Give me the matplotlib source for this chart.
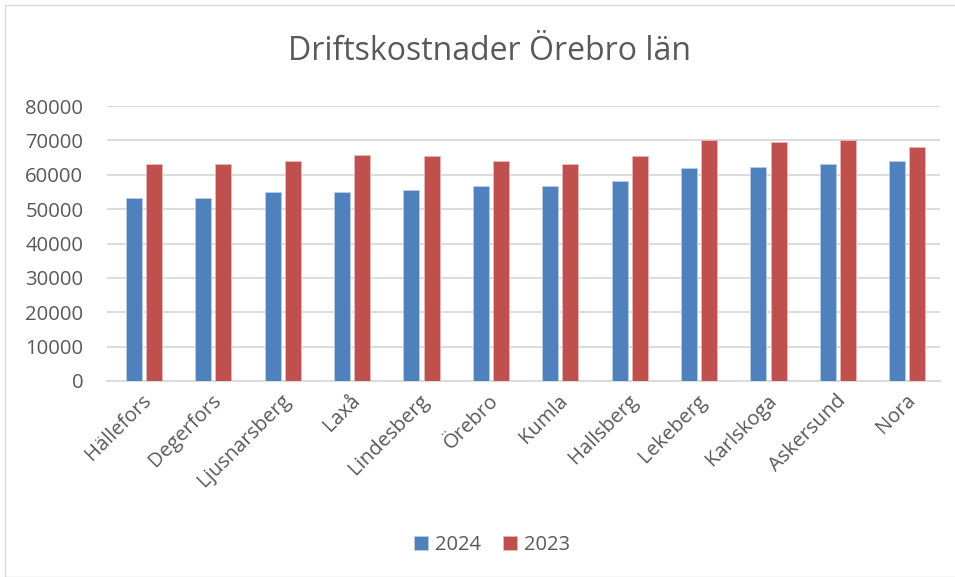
import matplotlib
matplotlib.use("Agg")
import matplotlib.pyplot as plt
import numpy as np
from matplotlib.patches import Rectangle

kommuner = ["Hällefors", "Degerfors", "Ljusnarsberg", "Laxå", "Lindesberg", "Örebro",
            "Kumla", "Hallsberg", "Lekeberg", "Karlskoga", "Askersund", "Nora"]
v2024 = [53100, 53300, 54900, 55000, 55700, 56600, 56700, 58300, 62100, 62300, 63000, 64100]
v2023 = [63200, 63100, 63900, 65800, 65400, 64100, 63200, 65500, 70100, 69400, 70200, 68200]

BLUE = "#4f81bd"
RED = "#c0504d"
GREY = "#595959"

plt.rcParams["font.family"] = ["Open Sans", "DejaVu Sans"]

fig = plt.figure(figsize=(9.55, 5.77), dpi=100)
ax = fig.add_axes([107 / 955, 1 - 381 / 577, (940 - 107) / 955, (381 - 106) / 577])

x = np.arange(len(kommuner))
w = 0.23
gap = 0.06
ax.bar(x - (w + gap) / 2 + 0.03, v2024, width=w, color=BLUE, label="2024", zorder=3,
       edgecolor="#b9cde5", linewidth=0.6)
ax.bar(x + (w + gap) / 2 + 0.03, v2023, width=w, color=RED, label="2023", zorder=3,
       edgecolor="#e6b9b8", linewidth=0.6)

ax.set_xlim(-0.5, len(kommuner) - 0.5)
ax.set_ylim(0, 80000)
ax.set_yticks(range(0, 80001, 10000))
ax.grid(axis="y", color="#d9d9d9", linewidth=1.3, zorder=0)
for s in ["top", "right", "left"]:
    ax.spines[s].set_visible(False)
ax.spines["bottom"].set_color("#d9d9d9")
ax.spines["bottom"].set_linewidth(1.3)
ax.tick_params(axis="both", length=0, colors=GREY, labelsize=14.6)
ax.tick_params(axis="y", pad=17)
ax.set_xticks(x)
ax.set_xticklabels(kommuner, rotation=45, ha="right", rotation_mode="anchor")
ax.tick_params(axis="x", pad=7)

fig.text(489 / 955, 1 - 51 / 577, "Driftskostnader Örebro län", ha="center", va="center",
         fontsize=23, color=GREY)

leg = fig.legend(loc="center", bbox_to_anchor=(492 / 955, 1 - 545 / 577), ncol=2, frameon=False,
                 fontsize=14.5, handlelength=0.7, handleheight=0.7, columnspacing=1.1,
                 handletextpad=0.35)
for t in leg.get_texts():
    t.set_color(GREY)

fig.patches.append(Rectangle((5 / 955, 0), 1, 1 - 5 / 577, transform=fig.transFigure,
                             fill=False, edgecolor="#d9d9d9", linewidth=1))

fig.savefig("out.png", dpi=100)
